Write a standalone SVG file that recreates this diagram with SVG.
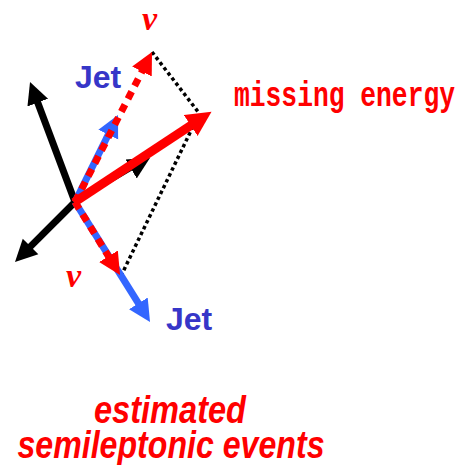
<svg xmlns="http://www.w3.org/2000/svg" width="463" height="465" viewBox="0 0 463 465">
<style>
.shaft{fill:none;stroke-linecap:butt}
.blk{stroke:#000}
.red{stroke:#ff0000}
.blue{stroke:#3366ff}
.dash{stroke-dasharray:8 6.5}
.dot{fill:none;stroke:#000;stroke-width:3.5;stroke-dasharray:3.5 3}
.jet{font-family:"Liberation Sans",Arial,sans-serif;font-weight:bold;font-size:32px;fill:#3636c8}
.nu{font-family:"Liberation Serif","Times New Roman",serif;font-style:italic;font-weight:bold;font-size:34px;fill:#ff0000}
.me{font-family:"Liberation Mono","Courier New",monospace;font-weight:bold;font-size:35px;fill:#ff0000}
.cap{font-family:"Liberation Sans",Arial,sans-serif;font-weight:bold;font-style:italic;font-size:38px;fill:#ff0000}
</style>
<defs>
<marker id="hb" viewBox="0 -12 23 24" markerUnits="userSpaceOnUse" markerWidth="23" markerHeight="24" refX="1" refY="0" orient="auto"><path d="M0,-11 L22,0 L0,11 z" fill="#000"/></marker>
<marker id="hu" viewBox="0 -12 23 24" markerUnits="userSpaceOnUse" markerWidth="23" markerHeight="24" refX="1" refY="0" orient="auto"><path d="M0,-11 L22,0 L0,11 z" fill="#3366ff"/></marker>
<marker id="hr" viewBox="0 -12 23 24" markerUnits="userSpaceOnUse" markerWidth="23" markerHeight="24" refX="1" refY="0" orient="auto"><path d="M0,-11 L22,0 L0,11 z" fill="#ff0000"/></marker>
<marker id="hR" viewBox="0 -13 26 26" markerUnits="userSpaceOnUse" markerWidth="26" markerHeight="26" refX="1" refY="0" orient="auto"><path d="M0,-12.5 L25,0 L0,12.5 z" fill="#ff0000"/></marker>
</defs>
<g id="connectors">
<line class="dot" x1="152" y1="52" x2="199" y2="113"/>
<line class="dot" x1="121" y1="276" x2="199" y2="114"/>
<line class="shaft blk" stroke-width="7" x1="75" y1="202" x2="37.4" y2="101.7" marker-end="url(#hb)"/>
<line class="shaft blk" stroke-width="7" x1="75" y1="202" x2="29.85" y2="247.15" marker-end="url(#hb)"/>
<line class="shaft blk" stroke-width="3.5" x1="75" y1="202" x2="132" y2="168.5" marker-end="url(#hb)"/>
<line class="shaft blue" stroke-width="7" x1="75" y1="202" x2="108.7" y2="133.8" marker-end="url(#hu)"/>
<line class="shaft blue" stroke-width="7" x1="75" y1="202" x2="138.9" y2="304.2" marker-end="url(#hu)"/>
<line class="shaft red dash" stroke-width="7" x1="75" y1="202" x2="142.4" y2="70.7" marker-end="url(#hr)"/>
<line class="shaft red dash" stroke-width="7" x1="75" y1="202" x2="109" y2="257.1" marker-end="url(#hr)"/>
<line class="shaft red" stroke-width="9" x1="74" y1="202.5" x2="191.5" y2="124.9" marker-end="url(#hR)"/>
</g>
<g id="nu-top"><text class="nu" x="142" y="30">ν</text></g>
<g id="jet-top"><text class="jet" x="75" y="88">Jet</text></g>
<g id="missing-energy"><text class="me" x="234" y="106" textLength="221" lengthAdjust="spacingAndGlyphs">missing energy</text></g>
<g id="nu-bottom"><text class="nu" x="66" y="287">ν</text></g>
<g id="jet-bottom"><text class="jet" x="166" y="330">Jet</text></g>
<g id="caption">
<text class="cap" x="170" y="423" text-anchor="middle" textLength="152" lengthAdjust="spacingAndGlyphs">estimated</text>
<text class="cap" x="171" y="458" text-anchor="middle" textLength="307" lengthAdjust="spacingAndGlyphs">semileptonic events</text>
</g>
</svg>
